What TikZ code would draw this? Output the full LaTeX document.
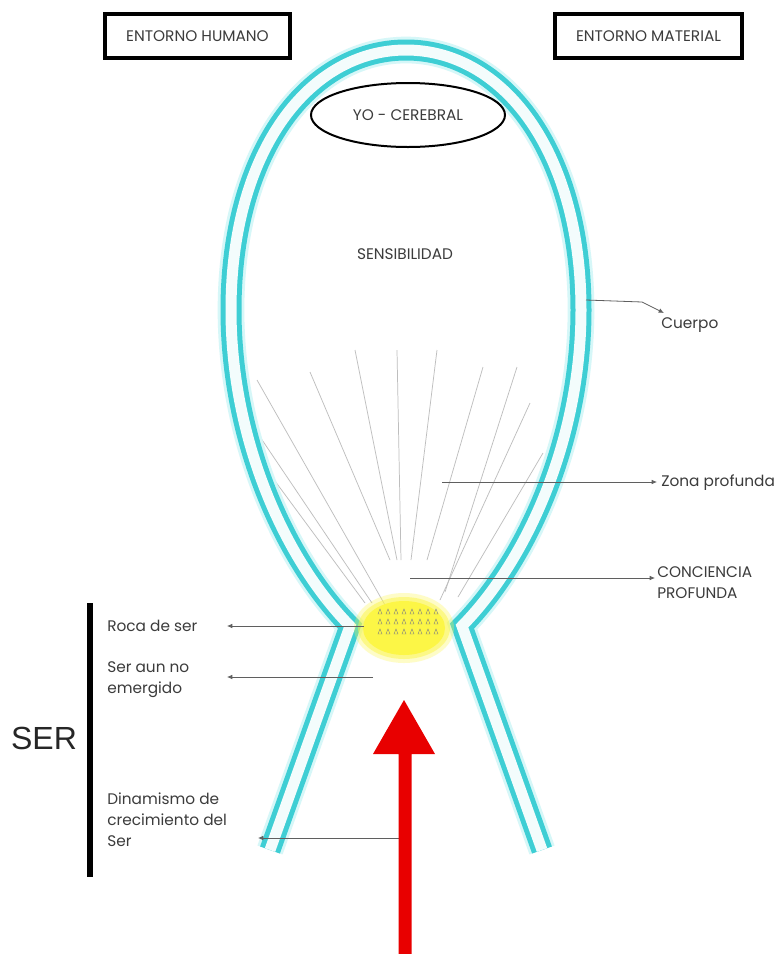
\documentclass[tikz,border=0pt]{standalone}
\usepackage{fontspec}
\setmainfont{Poppins}
\newfontfamily\serfont{Liberation Sans}
\usetikzlibrary{arrows.meta,shapes.geometric}
\definecolor{tube}{RGB}{62,206,212}
\definecolor{tubeglow}{RGB}{214,247,248}
\definecolor{raycol}{RGB}{190,190,190}
\definecolor{conncol}{RGB}{95,95,95}
\definecolor{txt}{RGB}{60,60,60}
\definecolor{arrred}{RGB}{232,0,0}
\definecolor{blobcol}{RGB}{252,246,70}
\begin{document}
\begin{tikzpicture}[x=0.75pt,y=-0.75pt,
  lbl/.style={font=\fontsize{11.5}{15.75}\selectfont, text=txt, inner sep=0pt, align=left},
  boxlbl/.style={draw=black, line width=3pt, font=\fontsize{11.5}{14}\selectfont, text=txt,
     minimum height=33pt, inner sep=0pt},
  conn/.style={draw=conncol, line width=0.6pt},
  connarrow/.style={conn, -{Latex[length=4pt,width=3.5pt]}},
  ray/.style={draw=raycol, line width=0.55pt}
]
\useasboundingbox (0,0) rectangle (780,954);
\fill[white] (0,0) rectangle (780,954);

% boxes
\node[boxlbl, minimum width=138.75pt] (humano) at (197.5,36) {ENTORNO HUMANO};
\node[boxlbl, minimum width=140pt] (material) at (648.5,36) {ENTORNO MATERIAL};

% rays
\foreach \a/\b/\c/\d in {257/380/385/605, 310/372/390/560, 355/350/397/560, 397/350/401/560,
   437/350/411/560, 483/367/427/560, 517/367/445/592, 530/403/440/600, 543/453/458/597,
   250/422/372/603, 258/458/365/603}
  \draw[ray] (\a,\b) -- (\c,\d);

% tube
\def\tubepath{(270,850) -- (350,626) .. controls (285,560) and (231,440) .. (231,310)
  .. controls (231,150) and (310,50) .. (406,50) .. controls (502,50) and (581,150) .. (581,310)
  .. controls (581,440) and (527,560) .. (462,626) -- (542,850)}
\draw[tubeglow, line width=20pt, line join=miter] \tubepath;
\draw[tube, line width=3.75pt, double=tube!6, double distance=8.25pt, line join=miter] \tubepath;

% yellow blob
\coordinate (blobc) at (404,628);
\fill[blobcol, opacity=0.3] (blobc) ellipse [x radius=50, y radius=35];
\fill[blobcol, opacity=0.5] (blobc) ellipse [x radius=46, y radius=31];
\fill[blobcol] (blobc) ellipse [x radius=41, y radius=27];
\foreach \yy in {614,624,634} {
  \foreach \xx in {378,386,...,436} {
    \draw[black!50, line width=0.3pt] (\xx,\yy) -- ++(2,-5) -- ++(2,5) -- cycle;
  }
}

% ellipse Yo
\node[draw=black, line width=1.5pt, ellipse, minimum width=145.5pt, minimum height=48pt,
      inner sep=0pt, font=\fontsize{11.5}{14}\selectfont, text=txt] (yo) at (408,115) {YO - CEREBRAL};
\node[lbl] (sens) at (405,254) {SENSIBILIDAD};

% right labels
\node[lbl, anchor=west] (cuerpo) at (661,325) {Cuerpo};
\node[lbl, anchor=west] (zona) at (661,483) {Zona profunda};
\node[lbl, anchor=west] (conc) at (657,583) {CONCIENCIA\\PROFUNDA};

\coordinate (cuerpoS) at (586,300);
\coordinate (cuerpoM) at (642,302);
\coordinate (cuerpoT) at (664,313);
\draw[connarrow] (cuerpoS) -- (cuerpoM) -- (cuerpoT);
\coordinate (zonaS) at (442,482);
\coordinate (zonaT) at (657,482);
\draw[connarrow] (zonaS) -- (zonaT);
\coordinate (concS) at (410,578);
\coordinate (concT) at (655,578);
\draw[connarrow] (concS) -- (concT);

% left labels
\node[lbl, anchor=west] (roca) at (107,626) {Roca de ser};
\node[lbl, anchor=west] (seraun) at (107,680) {Ser aun no\\emergido};
\node[lbl, anchor=west] (dinam) at (107,820) {Dinamismo de\\crecimiento del\\Ser};

\coordinate (rocaS) at (364,626);
\coordinate (rocaT) at (227,626);
\draw[connarrow] (rocaS) -- (rocaT);
\coordinate (serS) at (373,677);
\coordinate (serT) at (227,677);
\draw[connarrow] (serS) -- (serT);
\coordinate (dinS) at (402,838);
\coordinate (dinT) at (258,838);
\draw[connarrow] (dinS) -- (dinT);

% SER bar and label
\coordinate (barT) at (90,603);
\coordinate (barB) at (90,877);
\draw[black, line width=4.5pt] (barT) -- (barB);
\node[font=\serfont\fontsize{24}{28}\selectfont, text=black!85, inner sep=0pt] (ser) at (44,738) {SER};

% red arrow
\fill[arrred] (398.5,954) -- (398.5,754) -- (373,754) -- (404,700) -- (435,754) -- (411.5,754) -- (411.5,954) -- cycle;
\end{tikzpicture}
\end{document}
